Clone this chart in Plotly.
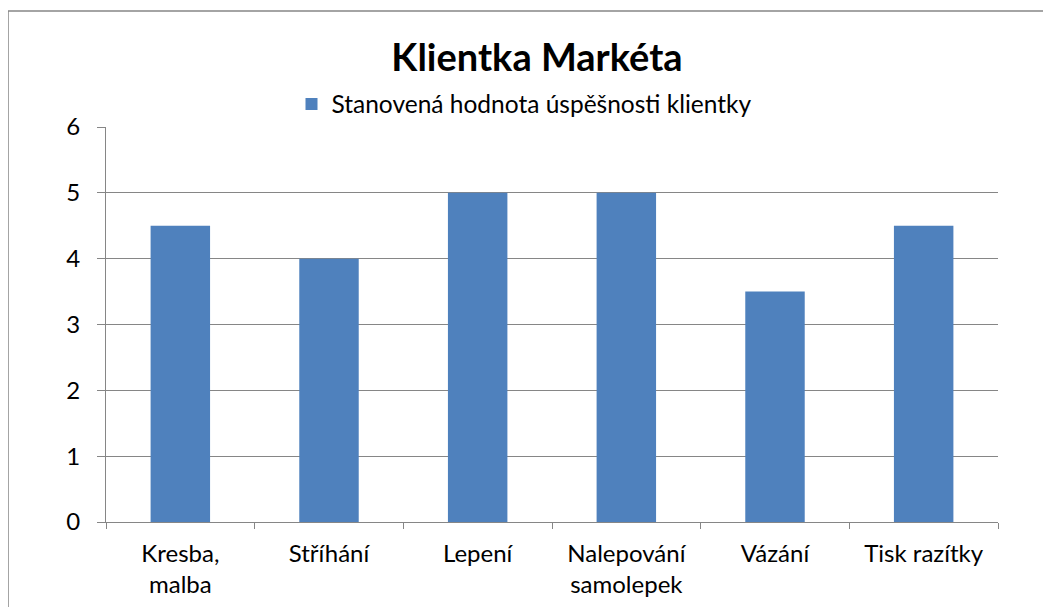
import plotly.graph_objects as go

categories = ["Kresba,<br>malba", "Stříhání", "Lepení", "Nalepování<br>samolepek", "Vázání", "Tisk razítky"]
values = [4.5, 4, 5, 5, 3.5, 4.5]
series_name = "Stanovená hodnota úspěšnosti klientky"
title_text = "Klientka Markéta"

OFF = 8  # browser body margin
W, H = 1051 - OFF, 607 - OFF
L, R, T, B = 106 - OFF, 998 - OFF, 127 - OFF, 522 - OFF

fig = go.Figure()
fig.add_trace(go.Bar(x=categories, y=values, name=series_name,
                     marker=dict(color="#4F81BD", line=dict(width=0))))

font_family = "Lato, 'Open Sans', sans-serif"
fig.update_layout(
    width=W, height=H,
    margin=dict(l=L, r=W - R, t=T, b=H - B, pad=0, autoexpand=False),
    paper_bgcolor="white", plot_bgcolor="white",
    font=dict(family=font_family, size=24, color="black"),
    title=dict(text="<b>" + title_text + "</b>", x=(537 - OFF) / W, xanchor="center",
               y=1 - (58 - OFF) / H, yanchor="middle", font=dict(size=38, family=font_family)),
    showlegend=True,
    legend=dict(orientation="h", x=0.5 - 28 / (R - L), xref="paper", xanchor="center",
                y=1 + (T - (104 - OFF)) / (B - T), yanchor="middle",
                font=dict(size=24.5), itemwidth=30, bgcolor="rgba(0,0,0,0)"),
    bargap=0.6,
)
fig.update_yaxes(range=[0, 6], dtick=1, showgrid=True, gridcolor="#868686", gridwidth=1,
                 showline=True, linecolor="#868686", linewidth=1,
                 ticks="outside", ticklen=8, tickcolor="#868686",
                 tickfont=dict(size=24), zeroline=False, ticklabelstandoff=12, automargin=False)
fig.update_xaxes(showline=True, linecolor="#868686", linewidth=1,
                 ticks="outside", ticklen=6, tickcolor="#868686", tickson="boundaries",
                 tickfont=dict(size=24), mirror=False, ticklabelstandoff=10, automargin=False)

# chart border (left and top edges visible)
px = lambda x: (x - L) / (R - L)
py = lambda y: (B - y) / (B - T)
fig.add_shape(type="line", xref="paper", yref="paper", x0=px(0), x1=px(0), y0=py(3), y1=py(620),
              line=dict(color="#868686", width=1.5))
fig.add_shape(type="line", xref="paper", yref="paper", x0=px(0), x1=px(1060), y0=py(3), y1=py(3),
              line=dict(color="#868686", width=1.5))

fig.write_html("out.html")
